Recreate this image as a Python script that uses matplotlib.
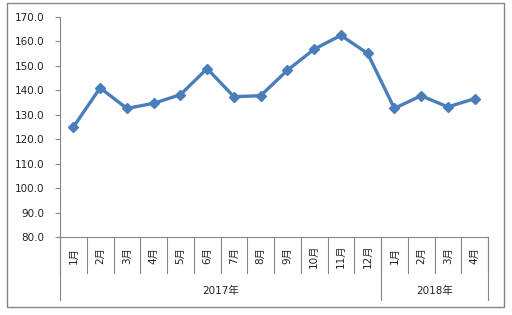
import matplotlib
matplotlib.use("Agg")
import matplotlib.pyplot as plt
from matplotlib.patches import Rectangle

plt.rcParams['font.family'] = ['DejaVu Sans', 'Noto Sans CJK SC']

months = ["1月", "2月", "3月", "4月", "5月", "6月", "7月", "8月", "9月", "10月", "11月", "12月",
          "1月", "2月", "3月", "4月"]
years = ["2017年", "2018年"]
year_counts = [12, 4]
values = [125.0, 141.0, 132.6, 134.7, 138.2, 148.9, 137.4, 137.8, 148.2, 156.8, 162.5, 155.1,
          132.6, 137.8, 133.2, 136.6]
yticks = [80, 90, 100, 110, 120, 130, 140, 150, 160, 170]

W, H = 512, 315
fig = plt.figure(figsize=(W / 100, H / 100), dpi=100)
gray = "#868686"

# outer border
fig.patches.append(Rectangle((6.5 / W, 1 - 306.5 / H), (503.5 - 6.5) / W, (306.5 - 2.5) / H,
                             transform=fig.transFigure, fill=False, edgecolor=gray, lw=1.0))

ax = fig.add_axes([60 / W, 1 - 237 / H, (488 - 60) / W, (237 - 17) / H])
x = list(range(len(values)))
ax.plot(x, values, color="#4A7EBB", lw=2.4, marker="D", markersize=5.5,
        markerfacecolor="#4A7EBB", markeredgecolor="#4A7EBB", solid_joinstyle="round")
ax.set_xlim(-0.5, len(values) - 0.5)
ax.set_ylim(80, 170)
ax.set_yticks(yticks)
ax.set_yticklabels([f"{v:.1f}" for v in yticks], fontsize=7.5, color="#222222")
ax.tick_params(axis="y", length=3.5, color=gray, width=0.8, pad=7.5)
ax.set_xticks([])
for s in ["top", "right"]:
    ax.spines[s].set_visible(False)
for s in ["left", "bottom"]:
    ax.spines[s].set_color(gray)
    ax.spines[s].set_linewidth(0.8)

ph = 237 - 17
month_depth = -(273 - 237) / ph
year_depth = -(300 - 237) / ph
trans = ax.get_xaxis_transform()
# month separators
for i in range(len(values) + 1):
    ax.plot([i - 0.5, i - 0.5], [0, month_depth], transform=trans, color=gray, lw=0.8, clip_on=False)
# month labels
for i, m in enumerate(months):
    ax.text(i, -(256 - 237) / ph, m, transform=trans, rotation=90, ha="center", va="center",
            fontsize=7.5, color="#222222")
# year separators and labels
start = 0
bounds = [0]
for c in year_counts:
    start += c
    bounds.append(start)
for b in bounds:
    ax.plot([b - 0.5, b - 0.5], [0, year_depth], transform=trans, color=gray, lw=0.8, clip_on=False)
for yl, a, b in zip(years, bounds[:-1], bounds[1:]):
    ax.text((a + b - 1) / 2, -(291 - 237) / ph, yl, transform=trans, ha="center", va="center",
            fontsize=7.5, color="#222222")

fig.savefig("out.png", dpi=100)
